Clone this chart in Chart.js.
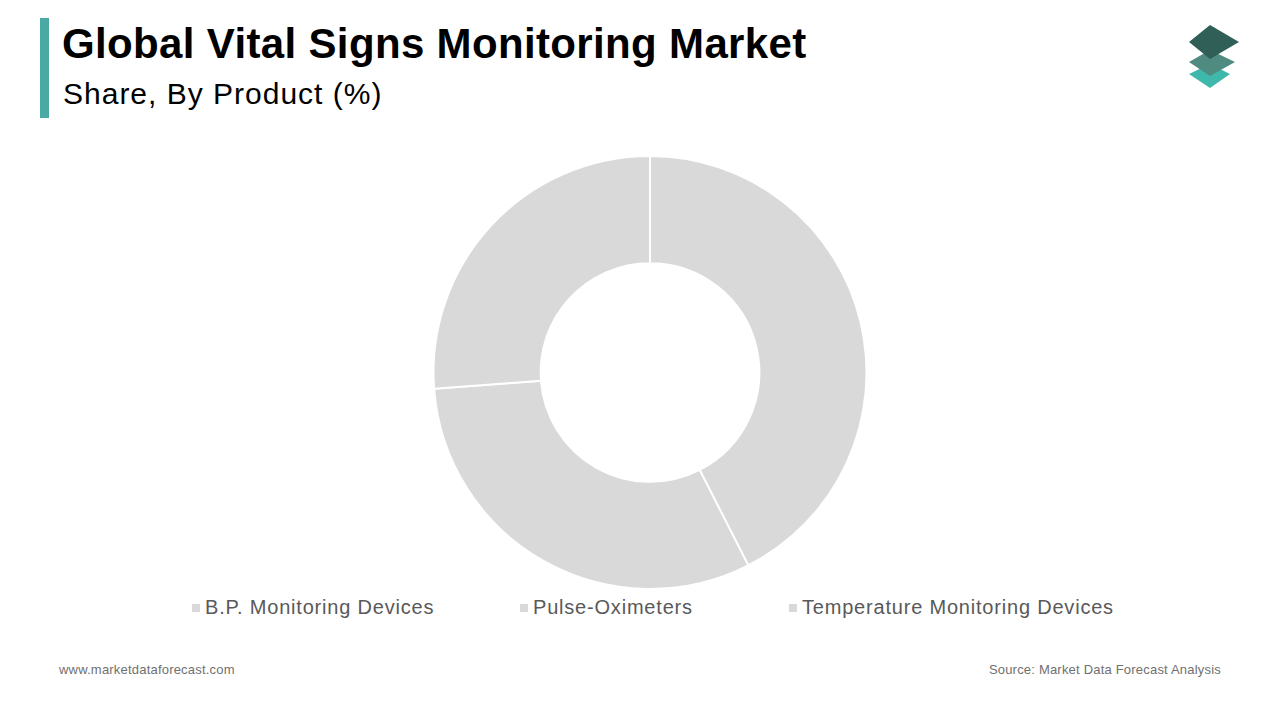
<!DOCTYPE html>
<html><head><meta charset="utf-8">
<script src="https://cdn.jsdelivr.net/npm/chart.js@4"></script>
<style>
body{margin:0;width:1280px;height:720px;background:#fff;font-family:Arial,"Liberation Sans",sans-serif;position:relative;overflow:hidden}
#bar{position:absolute;left:40px;top:18px;width:9px;height:100px;background:#4aa9a3}
#t{position:absolute;left:62px;top:20px;font-size:42px;font-weight:bold;color:#000;letter-spacing:0.35px}
#s{position:absolute;left:63px;top:77px;font-size:30px;color:#000;letter-spacing:1px}
#wrap{position:absolute;left:10px;top:155px;width:1280px;height:435px}
.f{position:absolute;top:662px;font-size:13px;color:#707070;letter-spacing:0.2px}
.lg{position:absolute;top:596px;font-size:20px;color:#595959;white-space:nowrap;letter-spacing:0.8px}
.lg i{display:inline-block;width:8px;height:8px;margin-right:5px;vertical-align:2px}
</style></head><body>
<div id="bar"></div>
<div id="t">Global Vital Signs Monitoring Market</div>
<div id="s">Share, By Product (%)</div>
<svg style="position:absolute;left:1185px;top:22px" width="70" height="70" viewBox="0 0 70 70">
<polygon points="25,42 45,52 25,66 4,52" fill="#3fb8ac"/>
<polygon points="25,28 50,40 25,54 4,40" fill="#4f8b80"/>
<polygon points="25,3 54,20 25,37 4,20" fill="#2f5f56"/>
</svg>
<div id="wrap"><canvas id="c"></canvas></div>
<div id="legend"></div>
<div class="f" style="left:59px">www.marketdataforecast.com</div>
<div class="f" style="right:59px">Source: Market Data Forecast Analysis</div>
<script>
const categories=["B.P. Monitoring Devices","Pulse-Oximeters","Temperature Monitoring Devices"];
const shares=[42.5,31.3,26.2];
const colors=["#d9d9d9","#d9d9d9","#d9d9d9"];
const legendX=[192,520,789];
const lg=document.getElementById('legend');
categories.forEach((c,i)=>{const d=document.createElement('div');d.className='lg';d.style.left=legendX[i]+'px';d.innerHTML='<i style="background:'+colors[i]+'"></i>'+c;lg.appendChild(d);});
new Chart(document.getElementById('c'),{type:'doughnut',
data:{labels:categories,datasets:[{data:shares,backgroundColor:colors,borderColor:'#fff',borderWidth:2}]},
options:{responsive:true,maintainAspectRatio:false,animation:false,cutout:'50.5%',
plugins:{tooltip:{enabled:false},legend:{display:false}}}});
</script>
</body></html>
